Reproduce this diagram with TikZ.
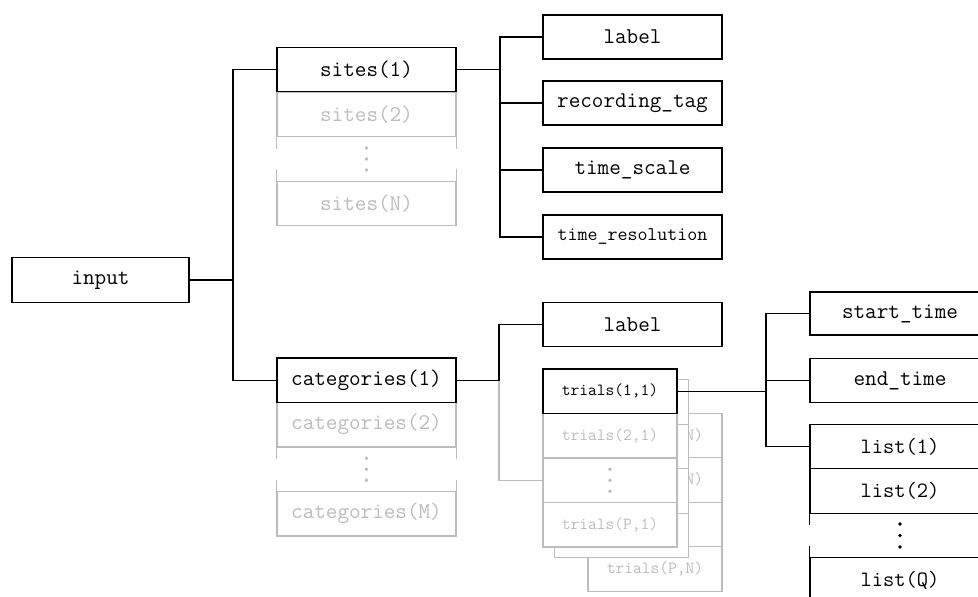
\documentclass[tikz,border=0pt]{standalone}
\usepackage{fontspec}
\newfontfamily\codefont{Latin Modern Mono}
\usetikzlibrary{shapes}
\definecolor{ghostgray}{RGB}{188,188,188}

\begin{document}
\begin{tikzpicture}[x=1pt,y=-1pt,
    box/.style={rectangle, draw, fill=white, line width=1.2pt, inner sep=0pt,
        minimum width=179pt, minimum height=44.5pt,
        font=\codefont\fontsize{22.5}{22.5}\selectfont},
    ghost/.style={box, draw=ghostgray, text=ghostgray},
    gap/.style={rectangle, inner sep=0pt, minimum width=179pt, minimum height=44.5pt},
    trial/.style={box, minimum width=134pt, font=\codefont\fontsize{17}{17}\selectfont},
    ghosttrial/.style={trial, draw=ghostgray, text=ghostgray},
    item/.style={box, minimum width=180pt},
    link/.style={line width=1.2pt},
    ghostlink/.style={line width=1.2pt, draw=ghostgray}]
\useasboundingbox (0,0) rectangle (978,597);
\clip (0,0) rectangle (978,597);

% root
\node[box, minimum width=177pt, minimum height=45pt] (input) at (100.5,280) {input};

% sites column
\node[ghost] (site2) at (366.5,114.5) {sites(2)};
\node[gap] (siteD) at (366.5,159) {};
\node[ghost] (siteN) at (366.5,203.5) {sites(N)};
\node[box] (site1) at (366.5,69.5) {sites(1)};
\draw[ghostlink] (siteD.north west) -- ++(0,12) (siteD.south west) -- ++(0,-12)
    (siteD.north east) -- ++(0,12) (siteD.south east) -- ++(0,-12);
\foreach \d in {-11,0,11} \fill[ghostgray] (siteD.center) ++(0,\d) circle (1.8pt);

% categories column
\node[ghost] (cat2) at (366.5,424.75) {categories(2)};
\node[gap] (catD) at (366.5,469.25) {};
\node[ghost] (catM) at (366.5,513.75) {categories(M)};
\node[box] (cat1) at (366.5,380.25) {categories(1)};
\draw[ghostlink] (catD.north west) -- ++(0,12) (catD.south west) -- ++(0,-12)
    (catD.north east) -- ++(0,12) (catD.south east) -- ++(0,-12);
\foreach \d in {-11,0,11} \fill[ghostgray] (catD.center) ++(0,\d) circle (1.8pt);

% fields of a site
\node[box, minimum height=44pt] (lab) at (632.5,37) {label};
\node[box, minimum height=44pt] (rtag) at (632.5,103) {recording\_tag};
\node[box, minimum height=44pt] (tscale) at (632.5,170) {time\_scale};
\node[box, minimum height=44pt, font=\codefont\fontsize{19.4}{19.4}\selectfont] (tres) at (632.5,237) {time\_resolution};

% fields of a category
\node[box, minimum height=44pt] (clab) at (632.5,324.5) {label};

% trials, back stack
\node[ghosttrial] (tN1) at (655,435.5) {trials(1,N)};
\node[ghosttrial] (tN2) at (655,480) {trials(2,N)};
\node[ghosttrial] (tND) at (655,524.5) {};
\node[ghosttrial] (tNP) at (655,569) {trials(P,N)};
% middle stack
\foreach \y/\n in {402/1,446.5/2,491/3,535.5/4}
    \node[ghosttrial] (tM\n) at (621.5,\y) {};
% front stack
\node[ghosttrial] (t21) at (610,435.75) {trials(2,1)};
\node[ghosttrial] (tD1) at (610,480.25) {};
\node[ghosttrial] (tP1) at (610,524.75) {trials(P,1)};
\node[trial] (t11) at (610,391.25) {trials(1,1)};
\foreach \d in {-11,0,11} \fill[ghostgray] (tD1.center) ++(0,\d) circle (1.8pt);

% fields of a trial
\node[item, minimum height=43pt] (start) at (900,313.5) {start\_time};
\node[item] (endt) at (900,380.5) {end\_time};
\node[item, font=\codefont\fontsize{21.9}{21.9}\selectfont] (list1) at (900,446.5) {list(1)};
\node[item, font=\codefont\fontsize{21.9}{21.9}\selectfont] (list2) at (900,491) {list(2)};
\node[gap, minimum width=180pt] (listD) at (900,535.5) {};
\node[item, font=\codefont\fontsize{21.9}{21.9}\selectfont] (listQ) at (900,580) {list(Q)};
\draw[link] (listD.north west) -- ++(0,12) (listD.south west) -- ++(0,-12)
    (listD.north east) -- ++(0,12) (listD.south east) -- ++(0,-12);
\foreach \d in {-11.5,0,11.5} \fill (listD.center) ++(0,\d) circle (1.8pt);

% connectors
\coordinate (rootJ) at (233,280);
\draw[link] (input.east) -- (rootJ);
\draw[link] (site1.west) -| (rootJ);
\draw[link] (cat1.west) -| (rootJ);

\coordinate (siteJ) at (500,69.5);
\draw[link] (site1.east) -- (siteJ);
\foreach \n in {lab,rtag,tscale,tres} \draw[link] (siteJ) |- (\n.west);

\coordinate (catJ) at (499,380.25);
\draw[ghostlink] (catJ) |- (tD1.west);
\draw[link] (cat1.east) -- (catJ) |- (clab.west);

\coordinate (trialJ) at (766,391.25);
\draw[link] (t11.east) -- (trialJ);
\foreach \n in {start,endt,list1} \draw[link] (trialJ) |- (\n.west);
\end{tikzpicture}
\end{document}
